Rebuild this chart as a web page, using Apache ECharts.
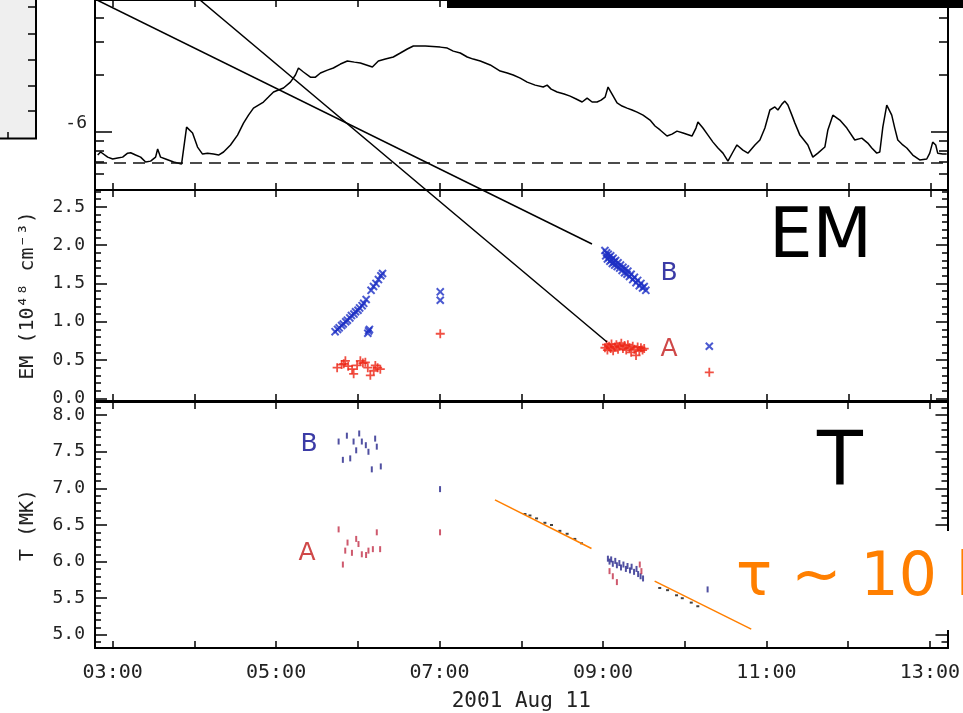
<!DOCTYPE html>
<html><head><meta charset="utf-8">
<script src="https://cdn.jsdelivr.net/npm/echarts@6/dist/echarts.min.js"></script>
<style>html,body{margin:0;padding:0;background:#fff;}#c{width:963px;height:713px;}</style>
</head><body><div id="c"></div>
<script>
// ---------------- DATA ----------------
// top panel: X-ray light curve (time in decimal hours UT, log10 flux)
const goesTime = [2.817,2.853,2.939,3.000,3.061,3.122,3.183,3.220,3.281,3.342,3.403,3.464,3.525,3.550,3.586,3.647,3.745,3.843,3.867,3.904,3.928,3.977,4.038,4.099,4.160,4.234,4.295,4.356,4.441,4.527,4.600,4.661,4.722,4.783,4.844,4.905,4.967,5.028,5.089,5.174,5.235,5.272,5.333,5.418,5.480,5.541,5.626,5.699,5.785,5.870,5.956,6.029,6.102,6.176,6.249,6.335,6.432,6.518,6.603,6.677,6.823,7.006,7.092,7.165,7.251,7.336,7.409,7.495,7.617,7.739,7.825,7.898,7.984,8.069,8.167,8.265,8.313,8.362,8.435,8.521,8.594,8.668,8.741,8.802,8.863,8.924,8.973,9.022,9.058,9.107,9.168,9.229,9.290,9.352,9.413,9.486,9.571,9.632,9.694,9.779,9.840,9.901,9.975,10.084,10.133,10.157,10.218,10.280,10.341,10.402,10.463,10.524,10.585,10.634,10.707,10.768,10.854,10.915,10.976,11.037,11.098,11.135,11.184,11.220,11.257,11.306,11.343,11.404,11.453,11.501,11.562,11.624,11.709,11.746,11.807,11.892,11.978,12.075,12.161,12.234,12.283,12.344,12.381,12.418,12.466,12.527,12.564,12.601,12.662,12.711,12.784,12.869,12.955,12.992,13.028,13.065,13.089,13.150,13.199];
const goesLogFlux = [-6.121,-6.105,-6.132,-6.142,-6.137,-6.132,-6.111,-6.109,-6.121,-6.132,-6.158,-6.153,-6.132,-6.089,-6.132,-6.142,-6.158,-6.168,-6.158,-5.974,-5.968,-6.005,-6.079,-6.116,-6.111,-6.116,-6.121,-6.105,-6.068,-6.016,-5.953,-5.911,-5.874,-5.858,-5.842,-5.816,-5.789,-5.779,-5.768,-5.737,-5.700,-5.663,-5.684,-5.711,-5.711,-5.689,-5.674,-5.663,-5.642,-5.626,-5.632,-5.637,-5.647,-5.658,-5.626,-5.616,-5.605,-5.584,-5.563,-5.547,-5.547,-5.553,-5.558,-5.574,-5.584,-5.605,-5.616,-5.626,-5.647,-5.679,-5.689,-5.700,-5.716,-5.737,-5.753,-5.763,-5.753,-5.774,-5.789,-5.800,-5.811,-5.826,-5.842,-5.821,-5.842,-5.842,-5.832,-5.816,-5.763,-5.800,-5.847,-5.863,-5.874,-5.884,-5.895,-5.911,-5.937,-5.968,-5.989,-6.021,-6.011,-5.995,-6.005,-6.021,-5.979,-5.947,-5.979,-6.016,-6.053,-6.084,-6.111,-6.153,-6.105,-6.068,-6.095,-6.111,-6.068,-6.042,-5.979,-5.884,-5.868,-5.884,-5.853,-5.837,-5.858,-5.911,-5.953,-6.016,-6.042,-6.068,-6.132,-6.111,-6.079,-5.989,-5.911,-5.937,-5.979,-6.042,-6.032,-6.058,-6.084,-6.111,-6.105,-5.974,-5.858,-5.911,-5.979,-6.042,-6.068,-6.084,-6.121,-6.147,-6.142,-6.111,-6.053,-6.068,-6.111,-6.116,-6.116];
const goesBackgroundLog = -6.155;
const goesMajorTickLog = [-6];
const goesMinorTickFlux = [6e-7, 7e-7, 8e-7, 9e-7, 2e-6, 3e-6, 4e-6];
const goesLabelLog = [-6];

// middle panel: emission measure (10^48 cm^-3), loop B (x) and loop A (+)
const emTimeB = [5.72,5.75,5.77,5.80,5.82,5.85,5.87,5.90,5.92,5.95,5.97,6.00,6.02,6.05,6.07,6.10,6.16,6.19,6.22,6.25,6.28,6.30,6.12,6.14,6.13,7.006,7.006,
  9.02,9.03,9.04,9.05,9.06,9.07,9.08,9.09,9.10,9.11,9.12,9.13,9.14,9.15,9.17,9.18,9.20,9.21,9.23,9.24,9.26,9.27,9.29,9.30,9.32,9.34,9.36,9.38,9.40,9.42,9.44,9.46,9.48,9.50,9.52,10.296];
const emValB = [0.87,0.90,0.92,0.95,0.97,1.00,1.02,1.05,1.08,1.10,1.13,1.15,1.18,1.21,1.24,1.29,1.41,1.46,1.50,1.55,1.60,1.63,0.85,0.90,0.88,1.39,1.28,
  1.93,1.86,1.90,1.82,1.88,1.84,1.79,1.86,1.81,1.76,1.83,1.78,1.74,1.80,1.72,1.77,1.70,1.74,1.67,1.71,1.64,1.69,1.62,1.66,1.59,1.62,1.55,1.58,1.51,1.54,1.47,1.50,1.44,1.46,1.41,0.68];
const emTimeA = [5.745,5.80,5.826,5.846,5.88,5.928,5.947,5.989,6.029,6.06,6.090,6.12,6.151,6.192,6.212,6.24,6.273,7.006,
  9.02,9.04,9.05,9.07,9.09,9.10,9.12,9.14,9.16,9.18,9.20,9.22,9.24,9.26,9.28,9.30,9.32,9.34,9.36,9.38,9.40,9.42,9.44,9.46,9.48,9.50,10.296];
const emValA = [0.40,0.44,0.45,0.49,0.42,0.38,0.32,0.43,0.49,0.46,0.47,0.40,0.30,0.36,0.43,0.40,0.38,0.843,
  0.66,0.70,0.63,0.68,0.65,0.71,0.62,0.67,0.70,0.64,0.68,0.72,0.65,0.69,0.63,0.70,0.66,0.60,0.68,0.64,0.56,0.67,0.62,0.66,0.63,0.65,0.34];

// bottom panel: temperature (MK)
const tTimeB = [5.765,5.817,5.866,5.907,5.948,5.980,6.017,6.049,6.098,6.130,6.171,6.212,6.232,6.281,7.006,
  9.06,9.08,9.10,9.12,9.15,9.17,9.20,9.22,9.25,9.28,9.30,9.33,9.35,9.38,9.41,9.43,9.46,9.49,10.28];
const tValB = [7.64,7.39,7.72,7.41,7.64,7.52,7.75,7.64,7.59,7.50,7.26,7.68,7.57,7.30,6.99,
  6.04,6.00,6.03,5.97,6.01,5.95,5.98,5.92,5.96,5.90,5.94,5.88,5.93,5.86,5.90,5.83,5.80,5.77,5.62];
const tTimeA = [5.765,5.817,5.846,5.874,5.928,5.980,6.008,6.049,6.101,6.130,6.184,6.232,6.273,7.006,9.08,9.12,9.17,9.45,9.47];
const tValA = [6.44,5.96,6.15,6.26,6.12,6.31,6.24,6.10,6.09,6.15,6.17,6.40,6.17,6.40,5.87,5.80,5.72,5.96,5.87];
const tTimeDots = [8.045,8.106,8.187,8.289,8.370,8.472,8.561,8.655,8.737,9.694,9.79,9.90,9.97,10.08,10.16];
const tValDots = [6.65,6.63,6.59,6.53,6.50,6.42,6.38,6.31,6.25,5.64,5.61,5.54,5.50,5.44,5.39];
// cooling fit (tau ~ 10 h), two visible segments
const fitTime = [7.678, 8.859, 9.632, 10.814];
const fitVal = [6.843, 6.179, 5.733, 5.078];

const hourTicks = [3,4,5,6,7,8,9,10,11,12,13];
const hourLabels = [3,5,7,9,11,13];
const emMajor = [0,0.5,1.0,1.5,2.0,2.5];
const emMinor = [0.1,0.2,0.3,0.4,0.6,0.7,0.8,0.9,1.1,1.2,1.3,1.4,1.6,1.7,1.8,1.9,2.1,2.2,2.3,2.4,2.6,2.7];
const tMajor = [5.0,5.5,6.0,6.5,7.0,7.5,8.0];
const tMinor = [4.9,5.1,5.2,5.3,5.4,5.6,5.7,5.8,5.9,6.1,6.2,6.3,6.4,6.6,6.7,6.8,6.9,7.1,7.2,7.3,7.4,7.6,7.7,7.8,7.9,8.1];
const dateLabel = '2001 Aug 11';
const emName = 'EM (10\u2074\u2078 cm\u207B\u00B3)';
const tName = 'T (MK)';

// ---------------- CHART ----------------
const zip = (a, b) => a.map((v, i) => [v, b[i]]);
const X_MIN = 2.784, X_MAX = 13.215;
const FONT = 'DejaVu Sans Mono';
const labelStyle = {color:'#222', fontFamily:FONT, fontSize:18};
const hh = v => (v < 10 ? '0' : '') + v + ':00';

const grids = [
  {left:95, right:15, top:0, height:190},
  {left:95, right:15, top:190, height:211},
  {left:95, right:15, top:402, height:246}
];
const xAxes = [], yAxes = [];
function addX(g, showLabel, name) {
  const base = {type:'value', gridIndex:g, min:X_MIN, max:X_MAX, splitLine:{show:false},
    axisLine:{show:true, onZero:false, lineStyle:{color:'#000', width:2}},
    axisTick:{show:true, inside:true, length:7, customValues:hourTicks, lineStyle:{color:'#000', width:1.5}}};
  xAxes.push(Object.assign({}, base, {position:'bottom',
    axisLabel:{show:showLabel, customValues:hourLabels, formatter:hh, margin:15, ...labelStyle, fontSize:20},
    name:name, nameLocation:'middle', nameGap:43, nameTextStyle:{...labelStyle, fontSize:21}}));
  xAxes.push(Object.assign({}, base, {position:'top', axisLabel:{show:false}}));
}
function addY(g, min, max, major, minor, labels, fmt, name, majLen, minLen, labelExtra) {
  const base = {type:'value', gridIndex:g, min:min, max:max, splitLine:{show:false},
    axisLine:{show:true, onZero:false, lineStyle:{color:'#000', width:2}}};
  const tick = (vals, len) => ({show:true, inside:true, length:len, customValues:vals, lineStyle:{color:'#000', width:1.5}});
  yAxes.push(Object.assign({}, base, {position:'left', axisTick:tick(major, majLen),
    axisLabel:Object.assign({show:true, customValues:labels, formatter:fmt, margin:10}, labelStyle, labelExtra || {}),
    name:name, nameLocation:'middle', nameGap:57, nameTextStyle:{...labelStyle, fontSize:20}}));
  yAxes.push(Object.assign({}, base, {position:'left', axisTick:tick(minor, minLen), axisLabel:{show:false}}));
  yAxes.push(Object.assign({}, base, {position:'right', axisTick:tick(major, majLen), axisLabel:{show:false}}));
  yAxes.push(Object.assign({}, base, {position:'right', axisTick:tick(minor, minLen), axisLabel:{show:false}}));
}
addX(0, false, '');
addX(1, false, '');
addX(2, true, dateLabel);
addY(0, -6.305, -5.305, goesMajorTickLog, goesMinorTickFlux.map(Math.log10), goesLabelLog, v => String(Math.round(v)), '', 17, 9, {verticalAlign:'bottom', margin:8});
addY(1, -0.035, 2.72, emMajor, emMinor, emMajor, v => v.toFixed(1), emName, 12, 6);
addY(2, 4.82, 8.18, tMajor, tMinor, tMajor, v => v.toFixed(1), tName, 12, 6);

const plusPath = 'path://M4,0H6V4H10V6H6V10H4V6H0V4H4Z';
const BLUE = '#1d2fc4', RED = '#ec2414';
const series = [
  {type:'line', xAxisIndex:0, yAxisIndex:0, data:zip(goesTime, goesLogFlux), showSymbol:false, symbol:'none',
    lineStyle:{color:'#000', width:1.5}, silent:true,
    markLine:{silent:true, symbol:['none','none'], label:{show:false},
      lineStyle:{color:'#111', type:[12,7], width:1.5}, data:[{yAxis:goesBackgroundLog}]}},
  {type:'scatter', xAxisIndex:2, yAxisIndex:4, data:zip(emTimeB, emValB), symbol:plusPath, symbolRotate:45, symbolSize:10,
    itemStyle:{color:BLUE}, silent:true},
  {type:'scatter', xAxisIndex:2, yAxisIndex:4, data:zip(emTimeA, emValA), symbol:plusPath, symbolSize:9,
    itemStyle:{color:RED}, silent:true},
  {type:'scatter', xAxisIndex:4, yAxisIndex:8, data:zip(tTimeB, tValB), symbol:'rect', symbolSize:[2,6],
    itemStyle:{color:'#24248a'}, silent:true},
  {type:'scatter', xAxisIndex:4, yAxisIndex:8, data:zip(tTimeA, tValA), symbol:'rect', symbolSize:[2,6],
    itemStyle:{color:'#c23048'}, silent:true},
  {type:'scatter', xAxisIndex:4, yAxisIndex:8, data:zip(tTimeDots, tValDots), symbol:'rect', symbolSize:[3,2],
    itemStyle:{color:'#111'}, silent:true},
  {type:'line', xAxisIndex:4, yAxisIndex:8, data:zip(fitTime.slice(0,2), fitVal.slice(0,2)), symbol:'none',
    lineStyle:{color:'#ff7f00', width:1.5}, silent:true, z:3},
  {type:'line', xAxisIndex:4, yAxisIndex:8, data:zip(fitTime.slice(2,4), fitVal.slice(2,4)), symbol:'none',
    lineStyle:{color:'#ff7f00', width:1.5}, silent:true, z:3}
];

function txt(text, x, y, size, fill, align) {
  return {type:'text', z:100, style:{text:text, x:x, y:y, fill:fill,
    font:'normal ' + size + 'px "DejaVu Sans"', fontSize:size, fontFamily:'DejaVu Sans',
    align:align || 'center', textAlign:align || 'center', verticalAlign:'middle', textVerticalAlign:'middle'}};
}
const lineEl = (x1,y1,x2,y2,w) => ({type:'line', z:100, shape:{x1,y1,x2,y2}, style:{stroke:'#000', lineWidth:w}});
const graphic = [
  {type:'rect', z:100, shape:{x:0, y:0, width:36, height:138}, style:{fill:'#efefef'}},
  lineEl(36,0,36,139,2), lineEl(0,138.5,37,138.5,2),
  lineEl(28,7,36,7,1.5), lineEl(28,34,36,34,1.5), lineEl(28,60,36,60,1.5), lineEl(28,86,36,86,1.5), lineEl(28,111,36,111,1.5),
  lineEl(8,132,8,138,1.5),
  {type:'rect', z:100, shape:{x:447, y:0, width:516, height:8}, style:{fill:'#000'}},
  lineEl(97,0,592,244,1.5),
  lineEl(200,0,607,342,1.5),
  {type:'rect', z:100, shape:{x:928, y:531, width:35, height:99}, style:{fill:'#fff'}},
  txt('EM', 769, 239, 69, '#000', 'left'),
  txt('T', 840, 465, 75, '#000', 'center'),
  txt('\u03C4 ~ 10 h', 736, 579, 60, '#ff7f00', 'left'),
  txt('B', 669, 273, 25, '#3b3ba6', 'center'),
  txt('A', 669, 349, 25, '#cf4848', 'center'),
  txt('B', 309, 444, 25, '#3b3ba6', 'center'),
  txt('A', 307, 553, 25, '#cf4848', 'center')
];

const chart = echarts.init(document.getElementById('c'), null, {renderer:'canvas'});
chart.setOption({
  animation:false, backgroundColor:'#fff',
  grid:grids, xAxis:xAxes, yAxis:yAxes, series:series, graphic:graphic
});
</script></body></html>
